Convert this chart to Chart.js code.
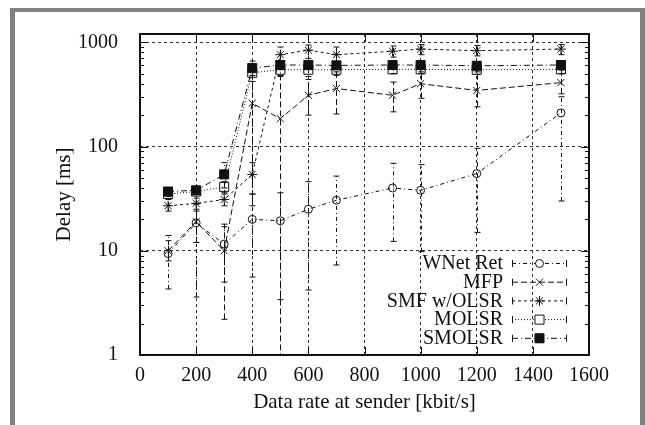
<!DOCTYPE html>
<html>
<head>
<meta charset="utf-8">
<script src="https://cdn.jsdelivr.net/npm/chart.js@4.4.1/dist/chart.umd.min.js"></script>
<style>
  body { margin: 0; background: #fff; }
  #wrap { position: relative; width: 645px; height: 425px; overflow: hidden; }
  #frame { position: absolute; left: 10px; top: 8px; width: 625px; height: 420px;
           border-left: 5px solid #808080; border-top: 4px solid #808080; border-right: 5px solid #808080; }
  #delayChart { position: absolute; left: 0; top: 0; }
</style>
</head>
<body>
<div id="wrap">
  <div id="frame"></div>
  <canvas id="delayChart" width="645" height="425"></canvas>
</div>
<script>
// data rate at sender (kbit/s)
const rates = [100, 200, 300, 400, 500, 600, 700, 900, 1000, 1200, 1500];

// delay in ms, with error bar ends
const wnetRet     = [9.4, 18.5, 11.6, 20, 19.4, 25, 30.5, 40, 38, 55, 210];
const wnetRetLow  = [4.3, 3.6, 5.0, 5.6, 3.4, 4.2, 7.3, 12.3, 9.8, 15, 30];
const wnetRetHigh = [14, 24, 18, 35, 36, 46, 52, 69, 67, 96, 300];

const mfp     = [10, 19, 10, 260, 185, 310, 360, 310, 400, 345, 410];
const mfpLow  = [8, 12, 2.2, 27, 0.5, 200, 205, 215, 290, 240, 320];
const mfpHigh = [12.5, 28, 17, 520, 480, 440, 520, 415, 520, 520, 540];

const smf     = [27, 28.5, 31, 54, 760, 840, 760, 820, 860, 830, 860];
const smfLow  = [24, 25, 27, 35, 600, 700, 640, 720, 760, 740, 760];
const smfHigh = [31, 32, 36, 70, 900, 940, 900, 920, 950, 930, 950];

const molsr     = [35, 37, 41, 510, 545, 545, 545, 550, 550, 545, 550];
const molsrLow  = [33, 35, 35, 420, 470, 470, 480, 500, 500, 490, 500];
const molsrHigh = [37, 39, 46, 580, 600, 600, 600, 600, 600, 600, 600];

const smolsr     = [37, 38, 54, 565, 605, 605, 600, 605, 605, 595, 605];
const smolsrLow  = [35, 36, 40, 480, 560, 560, 560, 570, 570, 560, 570];
const smolsrHigh = [39, 40, 70, 660, 650, 650, 650, 650, 650, 650, 650];

const xTicks = [0, 200, 400, 600, 800, 1000, 1200, 1400, 1600];
const yTicks = [1, 10, 100, 1000];

const serif = "'Liberation Serif', 'DejaVu Serif', serif";

function pts(ys) {
  return rates.map((x, i) => ({ x: x, y: ys[i] }));
}

function series(label, ys, lows, highs, dash, style, fill, radius, order) {
  return {
    label: label,
    data: pts(ys),
    errLow: lows,
    errHigh: highs,
    borderColor: "#111",
    borderWidth: 1,
    borderDash: dash,
    backgroundColor: fill,
    pointStyle: style,
    pointRadius: radius,
    pointBorderColor: "#111",
    pointBackgroundColor: fill,
    pointBorderWidth: 1,
    tension: 0,
    fill: false,
    order: order,
  };
}

// error bars, drawn with the line style of their series
const errorBars = {
  id: "errorBars",
  beforeDatasetsDraw(chart) {
    const { ctx, chartArea, scales } = chart;
    ctx.save();
    ctx.beginPath();
    ctx.rect(chartArea.left, chartArea.top, chartArea.right - chartArea.left, chartArea.bottom - chartArea.top);
    ctx.clip();
    const sets = chart.data.datasets.slice().reverse();
    sets.forEach(ds => {
      ctx.strokeStyle = "#111";
      ctx.lineWidth = 1;
      ds.data.forEach((p, i) => {
        const px = Math.round(scales.x.getPixelForValue(p.x)) + 0.5;
        const lo = scales.y.getPixelForValue(ds.errLow[i]);
        const hi = scales.y.getPixelForValue(ds.errHigh[i]);
        ctx.setLineDash(ds.borderDash || []);
        ctx.beginPath();
        ctx.moveTo(px, lo);
        ctx.lineTo(px, hi);
        ctx.stroke();
        ctx.setLineDash([]);
        ctx.beginPath();
        ctx.moveTo(px - 3, lo); ctx.lineTo(px + 3, lo);
        ctx.moveTo(px - 3, hi); ctx.lineTo(px + 3, hi);
        ctx.stroke();
      });
    });
    ctx.restore();
  }
};

// frame, inward tick marks and the key
const frameAndKey = {
  id: "frameAndKey",
  afterDraw(chart) {
    const { ctx, chartArea: a, scales } = chart;
    ctx.save();
    ctx.strokeStyle = "#111";
    ctx.lineWidth = 1;
    ctx.setLineDash([]);
    ctx.beginPath();
    xTicks.forEach(v => {
      const x = Math.round(scales.x.getPixelForValue(v)) + 0.5;
      ctx.moveTo(x, a.bottom); ctx.lineTo(x, a.bottom - 8);
      ctx.moveTo(x, a.top); ctx.lineTo(x, a.top + 8);
    });
    for (let d = 1; d <= 1000; d *= 10) {
      for (let m = 1; m <= 9; m++) {
        const v = d * m;
        if (v > scales.y.max) break;
        const y = Math.round(scales.y.getPixelForValue(v)) + 0.5;
        const len = m === 1 ? 8 : 4;
        ctx.moveTo(a.left, y); ctx.lineTo(a.left + len, y);
        ctx.moveTo(a.right, y); ctx.lineTo(a.right - len, y);
      }
    }
    ctx.stroke();
    ctx.lineWidth = 2;
    ctx.strokeRect(a.left, a.top, a.right - a.left, a.bottom - a.top);

    // key, bottom right inside the plot
    ctx.font = "20px " + serif;
    ctx.fillStyle = "#111";
    ctx.textAlign = "right";
    ctx.textBaseline = "middle";
    const textRight = a.right - 86;
    const s0 = a.right - 77, s1 = a.right - 22, mid = (s0 + s1) / 2;
    chart.data.datasets.forEach((ds, i) => {
      const y = a.bottom - 92 + i * 18.7;
      ctx.fillText(ds.label, textRight, y + 1);
      ctx.lineWidth = 1;
      ctx.setLineDash(ds.borderDash);
      ctx.beginPath();
      ctx.moveTo(s0, y + 0.5); ctx.lineTo(s1, y + 0.5);
      ctx.stroke();
      ctx.setLineDash([]);
      ctx.beginPath();
      ctx.moveTo(s0 + 0.5, y - 3); ctx.lineTo(s0 + 0.5, y + 4);
      ctx.moveTo(s1 - 0.5, y - 3); ctx.lineTo(s1 - 0.5, y + 4);
      ctx.stroke();
      ctx.fillStyle = ds.pointBackgroundColor === "transparent" ? "#fff" : ds.pointBackgroundColor;
      Chart.helpers.drawPoint(ctx, {
        pointStyle: ds.pointStyle, radius: ds.pointRadius, borderWidth: 1, rotation: 0
      }, mid, y + 0.5);
      ctx.fillStyle = "#111";
    });
    ctx.restore();
  }
};

const ctx = document.getElementById("delayChart").getContext("2d");
new Chart(ctx, {
  type: "line",
  data: {
    datasets: [
      series("WNet Ret", wnetRet, wnetRetLow, wnetRetHigh, [4, 3, 1, 3], "circle", "transparent", 4, 4),
      series("MFP", mfp, mfpLow, mfpHigh, [6, 3], "crossRot", "transparent", 5, 3),
      series("SMF w/OLSR", smf, smfLow, smfHigh, [3, 3], "star", "transparent", 5, 2),
      series("MOLSR", molsr, molsrLow, molsrHigh, [1, 2], "rect", "transparent", 6.4, 1),
      series("SMOLSR", smolsr, smolsrLow, smolsrHigh, [6, 3, 1, 3], "rect", "#111", 6.4, 0),
    ],
  },
  options: {
    responsive: false,
    animation: false,
    devicePixelRatio: 1,
    layout: { padding: { left: 0, top: 31, right: 56, bottom: 0 } },
    plugins: { legend: { display: false }, tooltip: { enabled: false } },
    scales: {
      x: {
        type: "linear",
        min: 0,
        max: 1600,
        afterBuildTicks: s => { s.ticks = xTicks.map(v => ({ value: v })); },
        afterFit: s => { s.height = 70; },
        grid: { color: "#333", lineWidth: 1, drawTicks: false },
        border: { display: false, dash: [3, 3] },
        ticks: { padding: 9, color: "#111", font: { family: serif, size: 20 }, maxRotation: 0,
                 callback: v => String(v) },
        title: { display: true, text: "Data rate at sender [kbit/s]", color: "#111",
                 font: { family: serif, size: 21 }, padding: { top: 0, bottom: 10 } },
      },
      y: {
        type: "logarithmic",
        min: 1,
        max: 1200,
        afterBuildTicks: s => { s.ticks = yTicks.map(v => ({ value: v })); },
        afterFit: s => { s.width = 140; },
        grid: { color: "#333", lineWidth: 1, drawTicks: false },
        border: { display: false, dash: [3, 3] },
        ticks: { padding: 22, color: "#111", font: { family: serif, size: 20 }, callback: v => String(v) },
        title: { display: true, text: "Delay [ms]", color: "#111",
                 font: { family: serif, size: 21 }, padding: { top: 52, bottom: 0 } },
      },
    },
  },
  plugins: [errorBars, frameAndKey],
});
</script>
</body>
</html>
